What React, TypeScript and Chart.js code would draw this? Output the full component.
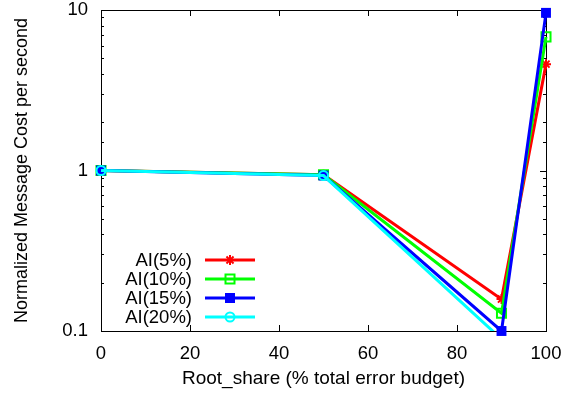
import React, { useEffect, useRef } from "react";
import { Chart, registerables } from "chart.js";

Chart.register(...registerables);

const xValues = [0, 50, 90, 100];
const ai5 = [1.0, 0.94, 0.158, 4.6];
const ai10 = [1.0, 0.94, 0.129, 6.8];
const ai15 = [1.0, 0.93, 0.1, 9.6];
const ai20: (number | null)[] = [1.0, 0.93, 0.089, null];
const seriesLabels = ["AI(5%)", "AI(10%)", "AI(15%)", "AI(20%)"];
const yTickLabels = [0.1, 1, 10];
const xTitle = "Root_share (% total error budget)";
const yTitle = "Normalized Message Cost per second";

const FONT = "'Liberation Sans', Arial, Helvetica, sans-serif";

function toPoints(vals: (number | null)[]) {
  return xValues.map((x, i) => ({ x, y: vals[i] }));
}

function drawMarker(ctx: CanvasRenderingContext2D, kind: string, x: number, y: number, color: string) {
  ctx.save();
  ctx.strokeStyle = color;
  ctx.fillStyle = color;
  ctx.lineWidth = 2;
  if (kind === "star") {
    const r = 5;
    ctx.beginPath();
    ctx.moveTo(x - r, y); ctx.lineTo(x + r, y);
    ctx.moveTo(x, y - r); ctx.lineTo(x, y + r);
    const d = r * Math.SQRT1_2;
    ctx.moveTo(x - d, y - d); ctx.lineTo(x + d, y + d);
    ctx.moveTo(x - d, y + d); ctx.lineTo(x + d, y - d);
    ctx.stroke();
  } else if (kind === "openRect") {
    ctx.strokeRect(x - 4.5, y - 4.5, 9, 9);
  } else if (kind === "fillRect") {
    ctx.fillRect(x - 5, y - 5, 10, 10);
  } else if (kind === "openCircle") {
    ctx.beginPath();
    ctx.arc(x, y, 4.5, 0, Math.PI * 2);
    ctx.stroke();
  }
  ctx.restore();
}

const markerKinds = ["star", "openRect", "fillRect", "openCircle"];

const framePlugin = {
  id: "frameTicks",
  beforeDatasetsDraw(chart: any) {
    const { ctx, chartArea } = chart;
    const { left, right, top, bottom } = chartArea;
    ctx.save();
    ctx.strokeStyle = "#000";
    ctx.lineWidth = 1;
    ctx.strokeRect(Math.round(left) + 0.5, Math.round(top) + 0.5, Math.round(right - left), Math.round(bottom - top));
    const xs = chart.scales.x;
    const ys = chart.scales.y;
    ctx.beginPath();
    xs.ticks.forEach((t: any) => {
      const px = Math.round(xs.getPixelForValue(t.value)) + 0.5;
      ctx.moveTo(px, bottom); ctx.lineTo(px, bottom - 6);
      ctx.moveTo(px, top); ctx.lineTo(px, top + 6);
    });
    ys.ticks.forEach((t: any) => {
      const major = yTickLabels.some((v) => Math.abs(v - t.value) < 1e-9);
      const len = major ? 6 : 3;
      const py = Math.round(ys.getPixelForValue(t.value)) + 0.5;
      ctx.moveTo(left, py); ctx.lineTo(left + len, py);
      ctx.moveTo(right, py); ctx.lineTo(right - len, py);
    });
    ctx.stroke();
    ctx.restore();
  },
  afterDraw(chart: any) {
    const { ctx, chartArea } = chart;
    const textRight = chartArea.left + 91;
    const lineStart = chartArea.left + 104;
    const lineEnd = chartArea.left + 154;
    const y0 = chartArea.bottom - 71;
    ctx.save();
    ctx.font = `18.5px ${FONT}`;
    ctx.textAlign = "right";
    ctx.textBaseline = "middle";
    chart.data.datasets.forEach((ds: any, i: number) => {
      const y = y0 + i * 19;
      ctx.fillStyle = "#000";
      ctx.fillText(ds.label, textRight, y + 1);
      ctx.strokeStyle = ds.borderColor;
      ctx.lineWidth = 3;
      ctx.beginPath();
      ctx.moveTo(lineStart, y);
      ctx.lineTo(lineEnd, y);
      ctx.stroke();
      drawMarker(ctx, markerKinds[i], (lineStart + lineEnd) / 2, y, ds.borderColor);
    });
    ctx.restore();
  },
};

export default function App() {
  const ref = useRef<HTMLCanvasElement>(null);
  useEffect(() => {
    document.body.style.margin = "0";
    const canvas = ref.current!;
    const chart = new Chart(canvas, {
      type: "line",
      data: {
        datasets: [
          {
            label: seriesLabels[0],
            data: toPoints(ai5),
            borderColor: "#ff0000",
            backgroundColor: "#ff0000",
            borderWidth: 3,
            pointStyle: "star",
            pointRadius: 5,
            pointBorderWidth: 2,
            pointBorderColor: "#ff0000",
            order: 4,
            clip: false,
          },
          {
            label: seriesLabels[1],
            data: toPoints(ai10),
            borderColor: "#00ff00",
            backgroundColor: "rgba(0,0,0,0)",
            borderWidth: 3,
            pointStyle: "rect",
            pointRadius: 6.4,
            pointBorderWidth: 2,
            pointBorderColor: "#00ff00",
            pointBackgroundColor: "rgba(0,0,0,0)",
            order: 3,
            clip: false,
          },
          {
            label: seriesLabels[2],
            data: toPoints(ai15),
            borderColor: "#0000ff",
            backgroundColor: "#0000ff",
            borderWidth: 3,
            pointStyle: "rect",
            pointRadius: 7,
            pointBorderWidth: 0,
            pointBackgroundColor: "#0000ff",
            order: 2,
            clip: false,
          },
          {
            label: seriesLabels[3],
            data: toPoints(ai20),
            borderColor: "#00ffff",
            backgroundColor: "rgba(0,0,0,0)",
            borderWidth: 3,
            pointStyle: "circle",
            pointRadius: 4.5,
            pointBorderWidth: 2,
            pointBorderColor: "#00ffff",
            pointBackgroundColor: "rgba(0,0,0,0)",
            order: 1,
            clip: { left: false, right: 0, top: 0, bottom: 0 } as any,
          },
        ],
      },
      options: {
        animation: false,
        responsive: false,
        maintainAspectRatio: false,
        spanGaps: false,
        elements: { line: { tension: 0 } },
        layout: { padding: { left: 0, right: 22, top: 10, bottom: 0 } },
        plugins: {
          legend: { display: false },
          tooltip: { enabled: false },
        },
        scales: {
          x: {
            type: "linear",
            min: 0,
            max: 100,
            grid: { display: false, drawTicks: false },
            border: { display: false },
            ticks: {
              stepSize: 20,
              color: "#000",
              font: { family: FONT, size: 18.5 },
              padding: 12,
              maxRotation: 0,
            },
            title: {
              display: true,
              text: xTitle,
              color: "#000",
              font: { family: FONT, size: 19 },
              padding: { top: 0, bottom: 6 },
            },
            afterFit: (scale: any) => {
              scale.height = 65;
              scale.paddingLeft = 0;
              scale.paddingRight = 0;
            },
          },
          y: {
            type: "logarithmic",
            min: 0.1,
            max: 10,
            grid: { display: false, drawTicks: false },
            border: { display: false },
            ticks: {
              autoSkip: false,
              color: "#000",
              font: { family: FONT, size: 18.5 },
              padding: 13,
              callback: (value: any) => {
                const v = Number(value);
                const hit = yTickLabels.find((t) => Math.abs(t - v) < 1e-9);
                return hit === undefined ? "" : String(hit);
              },
            },
            title: {
              display: true,
              text: yTitle,
              color: "#000",
              font: { family: FONT, size: 18 },
              padding: { top: 11, bottom: 0 },
            },
            afterFit: (scale: any) => {
              scale.width = 101;
              scale.paddingTop = 0;
              scale.paddingBottom = 0;
            },
          },
        },
      },
      plugins: [framePlugin],
    });
    return () => chart.destroy();
  }, []);
  return (
    <div style={{ position: "absolute", left: 0, top: 0, width: 568, height: 396 }}>
      <canvas ref={ref} width={568} height={396} />
    </div>
  );
}
